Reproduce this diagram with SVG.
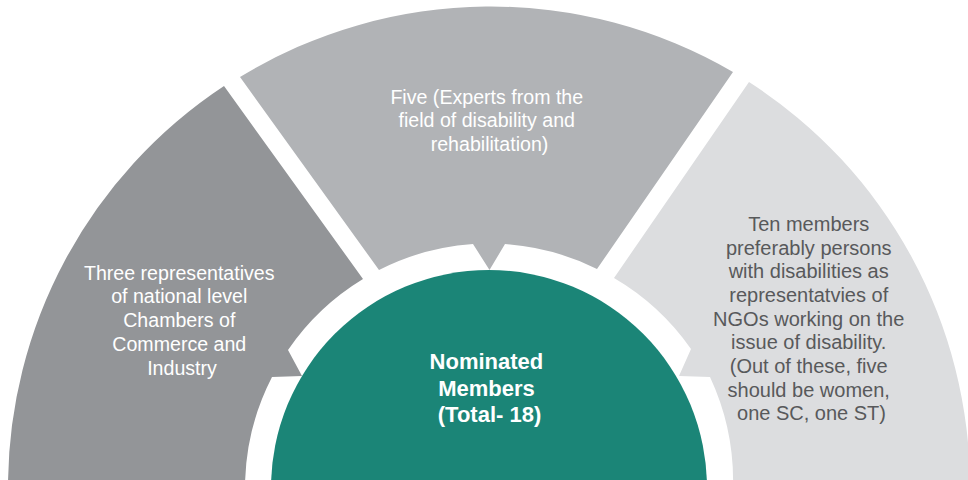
<svg xmlns="http://www.w3.org/2000/svg" width="968" height="480" viewBox="0 0 968 480">
  <style>
    .lbl { font-family: "Liberation Sans", Arial, sans-serif; font-size: 19.6px; text-anchor: middle; }
    .light { fill: #ffffff; }
    .dark { fill: #58595b; font-size: 20px; }
    .center { font-family: "Liberation Sans", Arial, sans-serif; font-size: 22px; font-weight: bold; fill: #ffffff; text-anchor: middle; }
  </style>
  <rect width="968" height="480" fill="#ffffff"/>
  <g id="seg-left">
    <path d="M 8 488 A 481 481 0 0 1 224 86 L 363 279 A 244 244 0 0 0 288 350 L 302 376 L 272 377 A 244 244 0 0 0 245 488 Z" fill="#939598"/>
    <text class="lbl light">
      <tspan x="182" y="280">Three representatives</tspan>
      <tspan x="182" y="303">of national level</tspan>
      <tspan x="182" y="327">Chambers of</tspan>
      <tspan x="182" y="351">Commerce and</tspan>
      <tspan x="182" y="375">Industry</tspan>
    </text>
  </g>
  <g id="seg-middle">
    <path d="M 240 77 A 481 481 0 0 1 733 72 L 597 269 A 244 244 0 0 0 505 244 L 489.5 270 L 473 244 A 244 244 0 0 0 379 270 Z" fill="#b1b3b6"/>
    <text class="lbl light">
      <tspan x="489.5" y="104">Five (Experts from the</tspan>
      <tspan x="489.5" y="127">field of disability and</tspan>
      <tspan x="489.5" y="151">rehabilitation)</tspan>
    </text>
  </g>
  <g id="seg-right">
    <path d="M 749 82 A 481 481 0 0 1 970 488 L 733 488 A 246 246 0 0 0 710 377 L 679 376 L 691 349 A 244 244 0 0 0 614 278 Z" fill="#dcdddf"/>
    <text class="lbl dark">
      <tspan x="811.5" y="231">Ten members</tspan>
      <tspan x="811.5" y="255">preferably persons</tspan>
      <tspan x="811.5" y="278">with disabilities as</tspan>
      <tspan x="811.5" y="302">representatvies of</tspan>
      <tspan x="811.5" y="326">NGOs working on the</tspan>
      <tspan x="811.5" y="349">issue of disability.</tspan>
      <tspan x="811.5" y="373">(Out of these, five</tspan>
      <tspan x="811.5" y="397">should be women,</tspan>
      <tspan x="811.5" y="420">one SC, one ST)</tspan>
    </text>
  </g>
  <g id="center-node">
    <circle cx="489" cy="488" r="218" fill="#1b8577"/>
    <text class="center">
      <tspan x="489.5" y="369">Nominated</tspan>
      <tspan x="489.5" y="396">Members</tspan>
      <tspan x="489.5" y="422">(Total- 18)</tspan>
    </text>
  </g>
</svg>
